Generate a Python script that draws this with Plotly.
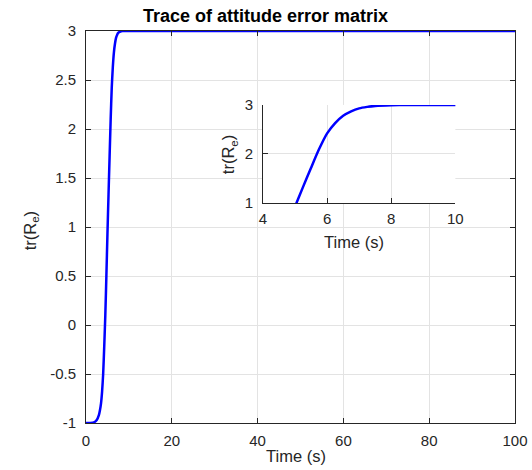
import plotly.graph_objects as go

# ---- data ----
time_s = [0, 1, 2, 2.5, 3, 3.25, 3.5, 3.75, 4, 4.25, 4.5, 4.75, 5, 5.25, 5.5, 5.75,
          6, 6.25, 6.5, 6.75, 7, 7.25, 7.5, 8, 8.5, 9, 10, 20, 40, 60, 80, 100]
trace_re = [-1, -1, -0.99, -0.97, -0.92, -0.87, -0.8, -0.68, -0.5, -0.22, 0.1, 0.5, 0.93,
            1.33, 1.72, 2.1, 2.42, 2.63, 2.78, 2.87, 2.93, 2.96, 2.98, 2.995, 3.0, 3.0,
            3.0, 3.0, 3.0, 3.0, 3.0, 3.0]

main_xticks = [0, 20, 40, 60, 80, 100]
main_xlabels = ["0", "20", "40", "60", "80", "100"]
main_yticks = [-1, -0.5, 0, 0.5, 1, 1.5, 2, 2.5, 3]
main_ylabels = ["-1", "-0.5", "0", "0.5", "1", "1.5", "2", "2.5", "3"]
inset_xticks = [4, 6, 8, 10]
inset_xlabels = ["4", "6", "8", "10"]
inset_yticks = [1, 2, 3]
inset_ylabels = ["1", "2", "3"]

title_text = "Trace of attitude error matrix"
xlabel_text = "Time (s)"
ylabel_text = "tr(R<sub>e</sub>)"

W, H = 532, 470
ML, MR, MT, MB = 85.5, 17, 31, 46.5
PW, PH = W - ML - MR, H - MT - MB

def px_x(p):
    return (p - ML) / PW

def px_y(p):
    return (H - MB - p) / PH

FONT = "Liberation Sans, Arial, Helvetica, sans-serif"
AX = "#262626"
GRID = "#e3e3e3"
BLUE = "#0000ff"

fig = go.Figure()
fig.add_trace(go.Scatter(x=time_s, y=trace_re, mode="lines", xaxis="x", yaxis="y",
                         line=dict(color=BLUE, width=2.5, shape="spline", smoothing=0.6),
                         showlegend=False, hoverinfo="skip"))
fig.add_trace(go.Scatter(x=time_s, y=trace_re, mode="lines", xaxis="x2", yaxis="y2",
                         line=dict(color=BLUE, width=2.5, shape="spline", smoothing=0.6),
                         showlegend=False, hoverinfo="skip"))

common = dict(showline=True, linecolor=AX, linewidth=1, ticks="inside", ticklen=5,
              tickcolor=AX, tickwidth=1, showgrid=True, gridcolor=GRID, gridwidth=1,
              zeroline=False, automargin=False,
              tickfont=dict(family=FONT, size=15, color=AX))

fig.update_layout(
    template="none",
    width=W, height=H,
    margin=dict(l=ML, r=MR, t=MT, b=MB, pad=0, autoexpand=False),
    paper_bgcolor="white", plot_bgcolor="white",
    xaxis=dict(domain=[0, 1], range=[0, 100], tickvals=main_xticks, ticktext=main_xlabels,
               mirror="ticks", anchor="y", ticklabelstandoff=4, **common),
    yaxis=dict(domain=[0, 1], range=[-1, 3], tickvals=main_yticks, ticktext=main_ylabels,
               mirror="ticks", anchor="x", ticklabelstandoff=6, **common),
    xaxis2=dict(domain=[px_x(262.7), px_x(455.3)], range=[4, 10], tickvals=inset_xticks,
                ticktext=inset_xlabels, anchor="y2", ticklabelstandoff=2, **common),
    yaxis2=dict(domain=[px_y(203.3), px_y(105)], range=[1, 3], tickvals=inset_yticks,
                ticktext=inset_ylabels, anchor="x2", ticklabelstandoff=6, **common),
    showlegend=False,
)

ann = []
ann.append(dict(text="<b>" + title_text + "</b>", x=px_x(265), y=px_y(16), xref="paper",
                yref="paper", showarrow=False, xanchor="center", yanchor="middle",
                font=dict(family=FONT, size=18, color="black")))
ann.append(dict(text=xlabel_text, x=px_x(296), y=px_y(457), xref="paper", yref="paper",
                showarrow=False, xanchor="center", yanchor="middle",
                font=dict(family=FONT, size=16.5, color=AX)))
ann.append(dict(text=ylabel_text, x=px_x(30), y=px_y(231), xref="paper", yref="paper",
                showarrow=False, xanchor="center", yanchor="middle", textangle=-90,
                font=dict(family=FONT, size=16.5, color=AX)))
ann.append(dict(text=xlabel_text, x=px_x(354), y=px_y(242), xref="paper", yref="paper",
                showarrow=False, xanchor="center", yanchor="middle",
                font=dict(family=FONT, size=16.5, color=AX)))
ann.append(dict(text=ylabel_text, x=px_x(229), y=px_y(155), xref="paper", yref="paper",
                showarrow=False, xanchor="center", yanchor="middle", textangle=-90,
                font=dict(family=FONT, size=16.5, color=AX)))
fig.update_layout(annotations=ann)

fig.write_html("out.html", config={"displayModeBar": False},
               post_script="document.body.style.margin='0';document.body.style.padding='0';")
